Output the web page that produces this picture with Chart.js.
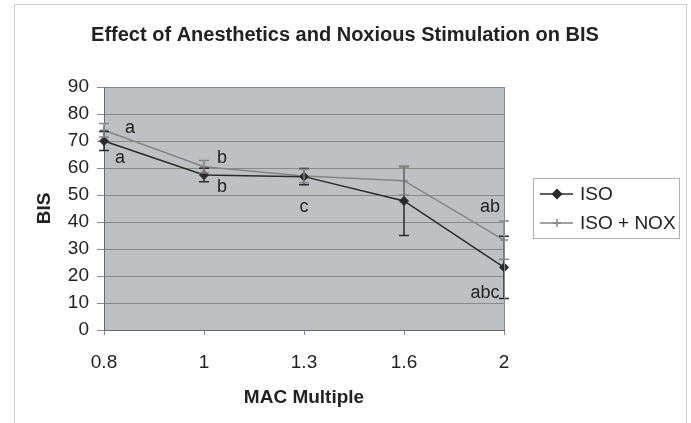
<!DOCTYPE html>
<html>
<head>
<meta charset="utf-8">
<script src="https://cdn.jsdelivr.net/npm/chart.js@4.4.0/dist/chart.umd.min.js"></script>
<style>
  html, body { margin: 0; padding: 0; background: #fff; }
  #wrap { width: 691px; height: 423px; }
</style>
</head>
<body>
<div id="wrap"><canvas id="bisChart"></canvas></div>
<script>
// MAC multiple (categories on the x axis)
const macLabels = ["0.8", "1", "1.3", "1.6", "2"];
// mean BIS values
const isoValues = [70, 57.4, 56.8, 47.8, 23.2];
const isoNoxValues = [74, 60.5, 57, 55.3, 33.3];
// error bar half lengths
const isoErrors = [3.5, 2.5, 3, 12.8, 11.5];
const isoNoxErrors = [2.5, 2.3, 2.5, 5.3, 7.1];
// significance letters: text, category position, BIS level
const sigText = ["a", "a", "b", "b", "c", "ab", "abc"];
const sigCategory = [0.26, 0.16, 1.18, 1.18, 2, 3.86, 3.81];
const sigLevel = [74.7, 63.6, 63.8, 52.9, 45.7, 45.6, 13.7];
// y axis range
const yMin = 0, yMax = 90, yStep = 10;

const FONT = "'Liberation Sans', Arial, sans-serif";
const ISO_COLOR = "#2b2b2b";
const NOX_COLOR = "#858585";

// gray plot background, frame and right border
const backgroundPlugin = {
  id: "plotBackground",
  beforeDraw(chart) {
    const { ctx, chartArea: a } = chart;
    ctx.save();
    ctx.strokeStyle = "#cfcfcf";
    ctx.lineWidth = 1;
    ctx.strokeRect(14.5, 4.5, 672, 440);
    ctx.fillStyle = "#bfc0c4";
    ctx.fillRect(a.left, a.top, a.right - a.left, a.bottom - a.top);
    ctx.restore();
  },
  afterDraw(chart) {
    const { ctx, chartArea: a } = chart;
    ctx.save();
    ctx.strokeStyle = "#8a8a8a";
    ctx.lineWidth = 1;
    ctx.beginPath();
    ctx.moveTo(Math.round(a.right) + 0.5, a.top);
    ctx.lineTo(Math.round(a.right) + 0.5, a.bottom);
    ctx.stroke();
    ctx.restore();
  }
};

// error bars for both series
const errorBarPlugin = {
  id: "errorBars",
  afterDatasetsDraw(chart) {
    const { ctx, scales } = chart;
    const errs = [isoErrors, isoNoxErrors];
    ctx.save();
    chart.data.datasets.forEach(function (ds, di) {
      ctx.strokeStyle = ds.borderColor;
      ctx.lineWidth = 1.5;
      ds.data.forEach(function (v, i) {
        const x = scales.x.getPixelForValue(i);
        const yTop = scales.y.getPixelForValue(v + errs[di][i]);
        const yBot = scales.y.getPixelForValue(v - errs[di][i]);
        ctx.beginPath();
        ctx.moveTo(x, yTop);
        ctx.lineTo(x, yBot);
        ctx.moveTo(x - 5, yTop);
        ctx.lineTo(x + 5, yTop);
        ctx.moveTo(x - 5, yBot);
        ctx.lineTo(x + 5, yBot);
        ctx.stroke();
      });
    });
    ctx.restore();
  }
};

// significance letters, title and legend
const textPlugin = {
  id: "chartText",
  afterDraw(chart) {
    const { ctx, scales, chartArea: a } = chart;
    ctx.save();
    ctx.fillStyle = "#222";
    ctx.textAlign = "center";
    ctx.textBaseline = "middle";
    ctx.font = "18px " + FONT;
    sigText.forEach(function (t, i) {
      ctx.fillText(t, scales.x.getPixelForValue(sigCategory[i]), scales.y.getPixelForValue(sigLevel[i]));
    });

    // title
    ctx.font = "bold 20px " + FONT;
    ctx.fillText("Effect of Anesthetics and Noxious Stimulation on BIS", 345, 35);

    // legend
    const lx = a.right + 29, ly = 178;
    ctx.strokeStyle = "#b0b0b0";
    ctx.lineWidth = 1;
    ctx.strokeRect(Math.round(lx) + 0.5, ly + 0.5, 146, 60);
    chart.data.datasets.forEach(function (ds, i) {
      const y = ly + 16 + i * 29;
      ctx.strokeStyle = ds.borderColor;
      ctx.fillStyle = ds.borderColor;
      ctx.lineWidth = 1.5;
      ctx.beginPath();
      ctx.moveTo(lx + 7, y);
      ctx.lineTo(lx + 40, y);
      ctx.stroke();
      Chart.helpers.drawPoint(ctx, {
        pointStyle: ds.pointStyle,
        radius: ds.pointRadius,
        borderWidth: ds.pointBorderWidth
      }, lx + 24, y);
      ctx.fillStyle = "#222";
      ctx.textAlign = "left";
      ctx.font = "19px " + FONT;
      ctx.fillText(ds.label, lx + 47, y + 1);
    });
    ctx.restore();
  }
};

const ctx = document.getElementById("bisChart");
new Chart(ctx, {
  type: "line",
  data: {
    labels: macLabels,
    datasets: [
      {
        label: "ISO",
        data: isoValues,
        borderColor: ISO_COLOR,
        backgroundColor: ISO_COLOR,
        borderWidth: 1.5,
        pointStyle: "rectRot",
        pointRadius: 4.5,
        pointBorderWidth: 1,
        tension: 0
      },
      {
        label: "ISO + NOX",
        data: isoNoxValues,
        borderColor: NOX_COLOR,
        backgroundColor: NOX_COLOR,
        borderWidth: 1.5,
        pointStyle: "cross",
        pointRadius: 4,
        pointBorderWidth: 1.5,
        tension: 0
      }
    ]
  },
  options: {
    responsive: true,
    maintainAspectRatio: false,
    animation: false,
    layout: {
      padding: { top: 87, right: 187, left: 0, bottom: 0 }
    },
    plugins: {
      legend: { display: false },
      title: { display: false },
      tooltip: { enabled: false }
    },
    scales: {
      x: {
        offset: false,
        grid: {
          drawOnChartArea: false,
          drawTicks: true,
          tickLength: 5,
          color: "#8a8a8a"
        },
        border: { display: true, color: "#6a6a6a" },
        ticks: {
          padding: 16,
          color: "#222",
          font: { family: FONT, size: 19 },
          maxRotation: 0
        },
        title: {
          display: true,
          text: "MAC Multiple",
          color: "#222",
          font: { family: FONT, size: 19, weight: "bold" },
          padding: { top: 0, bottom: 14 }
        },
        afterFit(scale) { scale.height = 93; }
      },
      y: {
        min: yMin,
        max: yMax,
        ticks: {
          stepSize: yStep,
          padding: 8,
          color: "#222",
          font: { family: FONT, size: 19 }
        },
        grid: {
          color: "#8a8a8a",
          tickLength: 7,
          lineWidth: 1
        },
        border: { display: true, color: "#6a6a6a" },
        title: {
          display: true,
          text: "BIS",
          color: "#222",
          font: { family: FONT, size: 19, weight: "bold" },
          padding: { top: 33, bottom: 0 }
        },
        afterFit(scale) { scale.width = 104; }
      }
    }
  },
  plugins: [backgroundPlugin, errorBarPlugin, textPlugin]
});
</script>
</body>
</html>
